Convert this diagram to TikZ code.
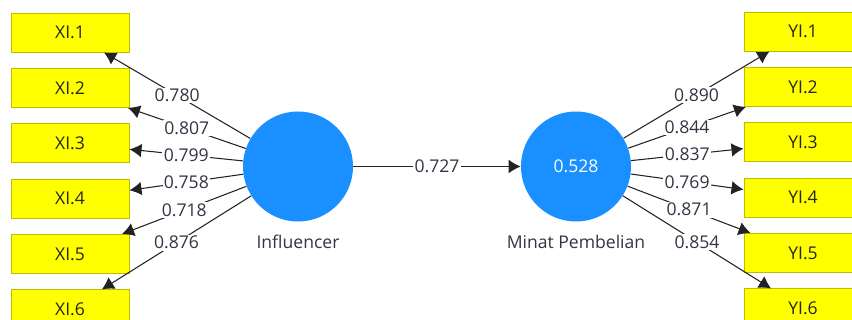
\documentclass[tikz,border=0pt]{standalone}
\usepackage{fontspec}
\setmainfont{Open Sans}
\usepackage{xcolor}
\usepackage{tikz}
\usetikzlibrary{arrows.meta, positioning}

\definecolor{boxyellow}{HTML}{FFFF00}
\definecolor{boxline}{HTML}{BDBD00}
\definecolor{lvblue}{HTML}{1A8FFF}
\definecolor{wtext}{HTML}{333344}
\definecolor{linegray}{HTML}{222222}

\begin{document}
\begin{tikzpicture}[node distance=0.385cm, every node/.style={align=center, font=\fontsize{12.5}{14}\selectfont},
    indicator/.style={draw=boxline, line width=0.7pt, fill=boxyellow, minimum width=2.95cm, minimum height=0.975cm, text=black!85},
    latent/.style={circle, fill=lvblue, minimum size=2.75cm, text=white, inner sep=0pt},
    load/.style={draw=linegray, line width=0.75pt, -{Latex[length=0.3cm, width=0.34cm]}},
    wt/.style={fill=white, inner sep=1pt, text=wtext}]
        \useasboundingbox (0,0) rectangle (21.3,8);

        \node (infl) [latent, label={[label distance=0.2cm, text=wtext]below:Influencer}] at (7.45,3.8375) {};
        \node (minat) [latent, label={[label distance=0.2cm, text=wtext]below:Minat Pembelian}] at (14.4,3.8375) {0.528};

        \node (xi1) [indicator] at (1.75,7.1875) {XI.1};
        \node (xi2) [indicator, below=of xi1] {XI.2};
        \node (xi3) [indicator, below=of xi2] {XI.3};
        \node (xi4) [indicator, below=of xi3] {XI.4};
        \node (xi5) [indicator, below=of xi4] {XI.5};
        \node (xi6) [indicator, below=of xi5] {XI.6};

        \node (yi1) [indicator] at (20.075,7.2125) {YI.1};
        \node (yi2) [indicator, below=of yi1] {YI.2};
        \node (yi3) [indicator, below=of yi2] {YI.3};
        \node (yi4) [indicator, below=of yi3] {YI.4};
        \node (yi5) [indicator, below=of yi4] {YI.5};
        \node (yi6) [indicator, below=of yi5] {YI.6};

        \draw[load] (infl) -- (xi1) node[midway, wt] {0.780};
        \draw[load] (infl) -- (xi2) node[midway, wt] {0.807};
        \draw[load] (infl) -- (xi3) node[midway, wt] {0.799};
        \draw[load] (infl) -- (xi4) node[midway, wt] {0.758};
        \draw[load] (infl) -- (xi5) node[midway, wt] {0.718};
        \draw[load] (infl) -- (xi6) node[midway, wt] {0.876};

        \draw[load] (minat) -- (yi1) node[midway, wt] {0.890};
        \draw[load] (minat) -- (yi2) node[midway, wt] {0.844};
        \draw[load] (minat) -- (yi3) node[midway, wt] {0.837};
        \draw[load] (minat) -- (yi4) node[midway, wt] {0.769};
        \draw[load] (minat) -- (yi5) node[midway, wt] {0.871};
        \draw[load] (minat) -- (yi6) node[midway, wt] {0.854};

        \draw[load] (infl) -- (minat) node[midway, wt] {0.727};
    \end{tikzpicture}
\end{document}
